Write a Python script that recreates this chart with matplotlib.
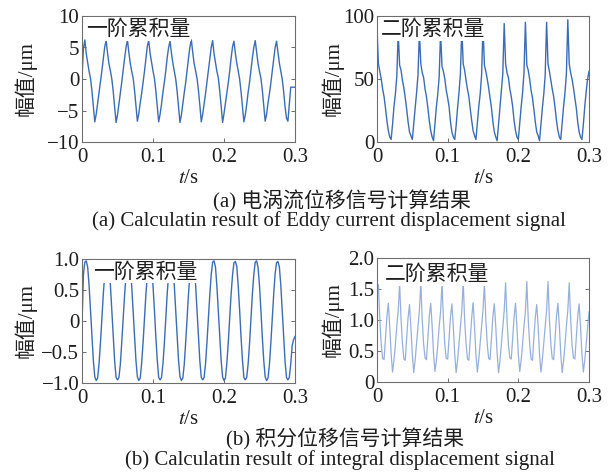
import numpy as np
import matplotlib
matplotlib.use("Agg")
import matplotlib.pyplot as plt

plt.rcParams['font.family'] = ['Liberation Serif', 'Noto Sans CJK SC']
plt.rcParams['mathtext.fontset'] = 'stix'

# ---------------- data ----------------
dt = 0.002

# (a) eddy-current displacement, first-order cumulant (um)
eddy_first = [
    0.3, 4.8, 6.2, 4.0, 2.6, 1.2, 0.1, -1.9, -4.3, -6.8, -5.6, -3.9, -2.3, -0.6, 1.3,
    3.2, 5.1, 6.1, 4.1, 2.4, 1.3, 0.0, -2.0, -4.4, -6.9, -5.7, -4.0, -2.2, -0.5, 1.4,
    3.3, 5.0, 6.2, 4.2, 2.5, 1.2, 0.2, -1.8, -4.2, -6.7, -5.5, -3.8, -2.3, -0.6, 1.2,
    3.2, 5.2, 6.1, 4.0, 2.6, 1.3, 0.1, -1.9, -4.3, -6.8, -5.6, -4.0, -2.1, -0.5, 1.3,
    3.4, 5.0, 6.0, 4.1, 2.5, 1.2, 0.0, -2.0, -4.4, -6.9, -5.7, -3.9, -2.2, -0.6, 1.4,
    3.3, 5.1, 6.2, 4.2, 2.4, 1.3, 0.1, -1.8, -4.2, -6.8, -5.6, -4.0, -2.3, -0.5, 1.3,
    3.2, 5.0, 6.1, 4.0, 2.6, 1.2, 0.2, -1.9, -4.3, -6.9, -5.5, -3.9, -2.2, -0.6, 1.2,
    3.3, 5.1, 6.0, 4.1, 2.5, 1.3, 0.0, -2.0, -4.4, -6.8, -5.7, -4.0, -2.1, -0.5, 1.4,
    3.4, 5.0, 6.1, 4.2, 2.4, 1.2, 0.1, -1.8, -4.2, -6.7, -5.6, -3.8, -2.3, -0.6, 1.3,
    3.3, 5.0, 6.0, 4.2, 2.5, 1.2, 0.0, -2.0, -4.4, -6.2, -6.7, -4.0, -1.3, -1.3, -1.3,
    -1.3,
]

# (a) eddy-current displacement, second-order cumulant (um)
eddy_second = [
    90, 62, 56, 50, 42, 36, 27, 17, 9, 4, 2, 14, 28, 38, 52,
    87, 61, 57, 49, 43, 35, 26, 16, 8, 5, 2, 15, 27, 39, 53,
    88, 62, 55, 51, 42, 36, 27, 17, 9, 4, 1, 14, 28, 38, 52,
    87, 60, 56, 50, 41, 35, 28, 16, 8, 4, 2, 13, 27, 39, 54,
    90, 62, 57, 49, 42, 36, 26, 17, 9, 5, 2, 15, 28, 38, 53,
    92, 61, 56, 50, 43, 35, 27, 16, 8, 4, 1, 14, 27, 40, 54,
    94, 62, 55, 51, 42, 36, 28, 17, 9, 4, 2, 15, 28, 39, 55,
    95, 61, 57, 50, 41, 35, 26, 16, 8, 5, 1, 14, 27, 38, 53,
    95, 62, 56, 49, 42, 36, 27, 17, 9, 4, 2, 15, 28, 39, 54,
    97, 62, 55, 50, 43, 35, 27, 16, 8, 4, 2, 14, 28, 40, 50,
    56,
]

# (b) integral displacement, first-order cumulant (um)
integ_first = [
    -0.05, 0.75, 0.95, 0.97, 0.87, 0.57, 0.17, -0.26, -0.64, -0.90, -0.96, -0.92, -0.69, -0.35, 0.04,
    0.43, 0.76, 0.94, 0.96, 0.86, 0.58, 0.16, -0.27, -0.65, -0.91, -0.95, -0.91, -0.70, -0.34, 0.05,
    0.42, 0.75, 0.95, 0.97, 0.87, 0.56, 0.17, -0.25, -0.64, -0.90, -0.96, -0.92, -0.68, -0.35, 0.03,
    0.43, 0.74, 0.94, 0.96, 0.88, 0.57, 0.18, -0.26, -0.63, -0.91, -0.95, -0.91, -0.69, -0.36, 0.04,
    0.44, 0.75, 0.95, 0.97, 0.86, 0.57, 0.16, -0.27, -0.64, -0.90, -0.96, -0.92, -0.70, -0.35, 0.05,
    0.43, 0.76, 0.94, 0.96, 0.87, 0.58, 0.17, -0.26, -0.65, -0.91, -0.95, -0.91, -0.69, -0.34, 0.04,
    0.42, 0.75, 0.95, 0.97, 0.87, 0.56, 0.16, -0.25, -0.64, -0.90, -0.96, -0.92, -0.68, -0.35, 0.03,
    0.43, 0.74, 0.94, 0.96, 0.88, 0.57, 0.18, -0.26, -0.63, -0.91, -0.95, -0.91, -0.69, -0.36, 0.04,
    0.44, 0.75, 0.95, 0.97, 0.86, 0.57, 0.17, -0.27, -0.64, -0.90, -0.96, -0.92, -0.70, -0.35, 0.05,
    0.43, 0.76, 0.94, 0.96, 0.87, 0.58, 0.17, -0.26, -0.65, -0.91, -0.95, -0.91, -0.69, -0.40, -0.30,
    -0.25,
]

# (b) integral displacement, second-order cumulant (um)
integ_second = [
    1.55, 1.57, 1.00, 0.60, 0.38, 0.36, 0.70, 1.05, 1.27, 0.90, 0.45, 0.16, 0.35, 0.60, 0.90,
    1.15, 1.58, 1.02, 0.62, 0.37, 0.35, 0.72, 1.04, 1.25, 0.88, 0.44, 0.15, 0.36, 0.62, 0.88,
    1.16, 1.61, 1.00, 0.61, 0.39, 0.36, 0.70, 1.06, 1.27, 0.91, 0.46, 0.17, 0.34, 0.60, 0.90,
    1.14, 1.60, 1.01, 0.60, 0.38, 0.37, 0.71, 1.05, 1.26, 0.89, 0.45, 0.15, 0.35, 0.61, 0.89,
    1.15, 1.62, 1.00, 0.62, 0.37, 0.35, 0.70, 1.04, 1.28, 0.90, 0.44, 0.16, 0.36, 0.62, 0.90,
    1.16, 1.58, 1.02, 0.61, 0.38, 0.36, 0.72, 1.06, 1.26, 0.91, 0.46, 0.15, 0.34, 0.60, 0.88,
    1.15, 1.60, 1.00, 0.60, 0.39, 0.37, 0.70, 1.05, 1.27, 0.89, 0.45, 0.17, 0.35, 0.61, 0.90,
    1.14, 1.62, 1.01, 0.62, 0.37, 0.35, 0.71, 1.04, 1.25, 0.90, 0.44, 0.16, 0.36, 0.62, 0.89,
    1.16, 1.62, 1.00, 0.61, 0.38, 0.36, 0.70, 1.06, 1.27, 0.91, 0.46, 0.15, 0.34, 0.60, 0.90,
    1.15, 1.60, 1.02, 0.60, 0.39, 0.37, 0.72, 1.05, 1.26, 0.89, 0.45, 0.16, 0.35, 0.61, 0.88,
    1.13,
]

x_ticks = [0, 0.1, 0.2, 0.3]
x_ticklabels = ['0', '0.1', '0.2', '0.3']
ylim_a1 = (-10, 10)
yticks_a1 = [-10, -5, 0, 5, 10]
yticklabels_a1 = ['\u221210', '\u22125', '0', '5', '10']
ylim_a2 = (0, 100)
yticks_a2 = [0, 50, 100]
yticklabels_a2 = ['0', '50', '100']
ylim_b1 = (-1, 1)
yticks_b1 = [-1.0, -0.5, 0, 0.5, 1.0]
yticklabels_b1 = ['\u22121.0', '\u22120.5', '0', '0.5', '1.0']
ylim_b2 = (0, 2)
yticks_b2 = [0, 0.5, 1.0, 1.5, 2.0]
yticklabels_b2 = ['0', '0.5', '1.0', '1.5', '2.0']

label_first = '一阶累积量'
label_second = '二阶累积量'
ylabel = '幅值/μm'
xlabel = '$t$/s'
cap_a_cn = '(a) 电涡流位移信号计算结果'
cap_a_en = '(a) Calculatin result of Eddy current displacement signal'
cap_b_cn = '(b) 积分位移信号计算结果'
cap_b_en = '(b) Calculatin result of integral displacement signal'

# ---------------- figure ----------------
W, H = 612, 473
fig = plt.figure(figsize=(W / 100, H / 100), dpi=100)
fig.patch.set_facecolor('white')

TXT = '#1e1e1e'
SPINE = '#6e6e6e'
BLUE = '#3b6cb4'
LIGHT = '#97b0da'
FS_TICK = 15
FS_LAB = 15
FS_CAP = 15


def px_axes(l, t, r, b):
    return fig.add_axes([l / W, 1 - b / H, (r - l) / W, (b - t) / H])


def style(ax, ylim, yt, ytl, lab, lab_xy, ylab_x):
    ax.set_xlim(0, 0.3)
    ax.set_ylim(*ylim)
    ax.set_xticks(x_ticks)
    ax.set_xticklabels(x_ticklabels)
    ax.set_yticks(yt)
    ax.set_yticklabels(ytl)
    ax.tick_params(direction='in', length=3, width=0.7, color=SPINE,
                   labelsize=FS_TICK, labelcolor=TXT, right=True, top=False, pad=2)
    ax.tick_params(axis='x', pad=4)
    for s in ax.spines.values():
        s.set_color(SPINE)
        s.set_linewidth(0.8)
    ax.set_xlabel(xlabel, fontsize=FS_LAB, color=TXT, labelpad=2)
    ax.set_ylabel(ylabel, fontsize=FS_LAB, color=TXT, va='center')
    ax.yaxis.set_label_coords(ylab_x, 0.5)
    ax.text(lab_xy[0], lab_xy[1], lab, transform=ax.transAxes, fontsize=15,
            color=TXT, ha='left', va='top', family=['Noto Sans CJK SC'],
            zorder=5, bbox=dict(facecolor='white', edgecolor='none', pad=0.5))


def series_t(vals):
    return np.arange(len(vals)) * dt


ax1 = px_axes(82, 16, 295, 142)
ax1.plot(series_t(eddy_first), eddy_first, color=BLUE, lw=1.0)
style(ax1, ylim_a1, yticks_a1, yticklabels_a1, label_first, (0.02, 0.985), (25 - 82) / 213)

ax2 = px_axes(377, 16, 589, 142)
ax2.plot(series_t(eddy_second), eddy_second, color=BLUE, lw=1.0)
style(ax2, ylim_a2, yticks_a2, yticklabels_a2, label_second, (0.02, 0.985), (332 - 377) / 212)

ax3 = px_axes(82, 259, 295, 383)
ax3.plot(series_t(integ_first), integ_first, color=BLUE, lw=1.0)
style(ax3, ylim_b1, yticks_b1, yticklabels_b1, label_first, (0.05, 0.985), (25 - 82) / 213)

ax4 = px_axes(377, 258, 589, 382)
ax4.plot(series_t(integ_second), integ_second, color=LIGHT, lw=0.9)
style(ax4, ylim_b2, yticks_b2, yticklabels_b2, label_second, (0.035, 0.96), (332 - 377) / 212)

fig.text(342 / W, 1 - 201 / H, cap_a_cn, ha='center', va='center', fontsize=FS_CAP, color=TXT)
fig.text(329 / W, 1 - 221 / H, cap_a_en, ha='center', va='center', fontsize=FS_CAP, color=TXT)
fig.text(345 / W, 1 - 439 / H, cap_b_cn, ha='center', va='center', fontsize=FS_CAP, color=TXT)
fig.text(340 / W, 1 - 460 / H, cap_b_en, ha='center', va='center', fontsize=FS_CAP, color=TXT)

fig.savefig('out.png', dpi=100, facecolor='white')
